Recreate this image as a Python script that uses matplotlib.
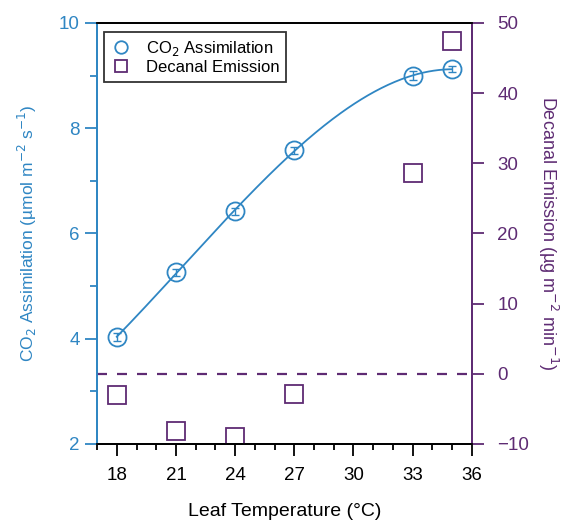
import numpy as np
import matplotlib
matplotlib.use("Agg")
import matplotlib.pyplot as plt
from matplotlib.ticker import MultipleLocator, FuncFormatter

plt.rcParams["font.family"] = ["Liberation Sans", "DejaVu Sans"]

BLUE = "#2f86c3"
PURPLE = "#5e2b73"

temp = [18, 21, 24, 27, 33, 35]
co2 = [4.03, 5.26, 6.42, 7.58, 9.00, 9.12]
co2_err = [0.07, 0.06, 0.07, 0.07, 0.08, 0.06]
decanal = [-3.0, -8.2, -9.0, -2.9, 28.6, 47.4]

fig = plt.figure(figsize=(5.61, 5.21), dpi=100)
ax = fig.add_axes([0.173, 0.148, 0.668, 0.808])
ax2 = ax.twinx()

# smooth fit through the CO2 points
coef = np.polyfit(temp, co2, 3)
xs = np.linspace(18, 35, 200)
ax.plot(xs, np.polyval(coef, xs), color=BLUE, lw=1.3, zorder=3)
ax.errorbar(temp, co2, yerr=co2_err, fmt="none", ecolor=BLUE, elinewidth=1,
            capsize=3, zorder=4)
l1, = ax.plot(temp, co2, "o", mfc="none", mec=BLUE, ms=13, mew=1.3,
              zorder=5, label="CO$_2$ Assimilation")

ax2.axhline(0, color=PURPLE, ls=(0, (4.5, 4.5)), lw=1.6)
l2, = ax2.plot(temp, decanal, "s", mfc="none", mec=PURPLE, ms=12.5, mew=1.3,
               label="Decanal Emission")

ax.set_xlim(17, 36)
ax.set_ylim(2, 10)
ax2.set_ylim(-10, 50)

ax.xaxis.set_major_locator(MultipleLocator(3))
ax.xaxis.set_major_formatter(FuncFormatter(lambda v, p: "" if v < 18 else f"{v:.0f}"))
ax.xaxis.set_minor_locator(MultipleLocator(1))
ax.yaxis.set_major_locator(MultipleLocator(2))
ax.yaxis.set_minor_locator(MultipleLocator(1))
ax2.yaxis.set_major_locator(MultipleLocator(10))

ax.tick_params(axis="x", which="major", length=8.5, width=1.3, colors="black",
               labelsize=13.5, pad=8)
ax.tick_params(axis="x", which="minor", length=4.5, width=1.3)
ax.tick_params(axis="y", which="major", length=8.5, width=1.3, colors=BLUE,
               labelsize=13.5, pad=4)
ax.tick_params(axis="y", which="minor", length=5, width=1.3, colors=BLUE)
ax2.tick_params(axis="y", which="major", length=8.5, width=1.3, colors=PURPLE,
                labelsize=13.5, pad=10)

for a in (ax, ax2):
    a.spines["left"].set_color(BLUE)
    a.spines["right"].set_color(PURPLE)
    for s in a.spines.values():
        s.set_linewidth(1.3)

ax.set_xlabel("Leaf Temperature (°C)", fontsize=14, labelpad=14)
ax.set_ylabel("CO$_2$ Assimilation (µmol m$^{-2}$ s$^{-1}$)", fontsize=12.5,
              color=BLUE, labelpad=14)
ax2.set_ylabel("Decanal Emission (µg m$^{-2}$ min$^{-1}$)", fontsize=13,
               color=PURPLE, rotation=270, labelpad=22)

leg = ax.legend(handles=[l1, l2], loc="upper left", fontsize=12,
                frameon=True, fancybox=False, edgecolor="black",
                handletextpad=0.9, borderaxespad=0.3, handlelength=1.2,
                labelspacing=0.15, bbox_to_anchor=(0.005, 0.99))
leg.get_frame().set_linewidth(1.3)
for h in leg.legend_handles:
    h.set_markersize(9)
leg.set_zorder(10)

fig.savefig("out.png", dpi=100)
